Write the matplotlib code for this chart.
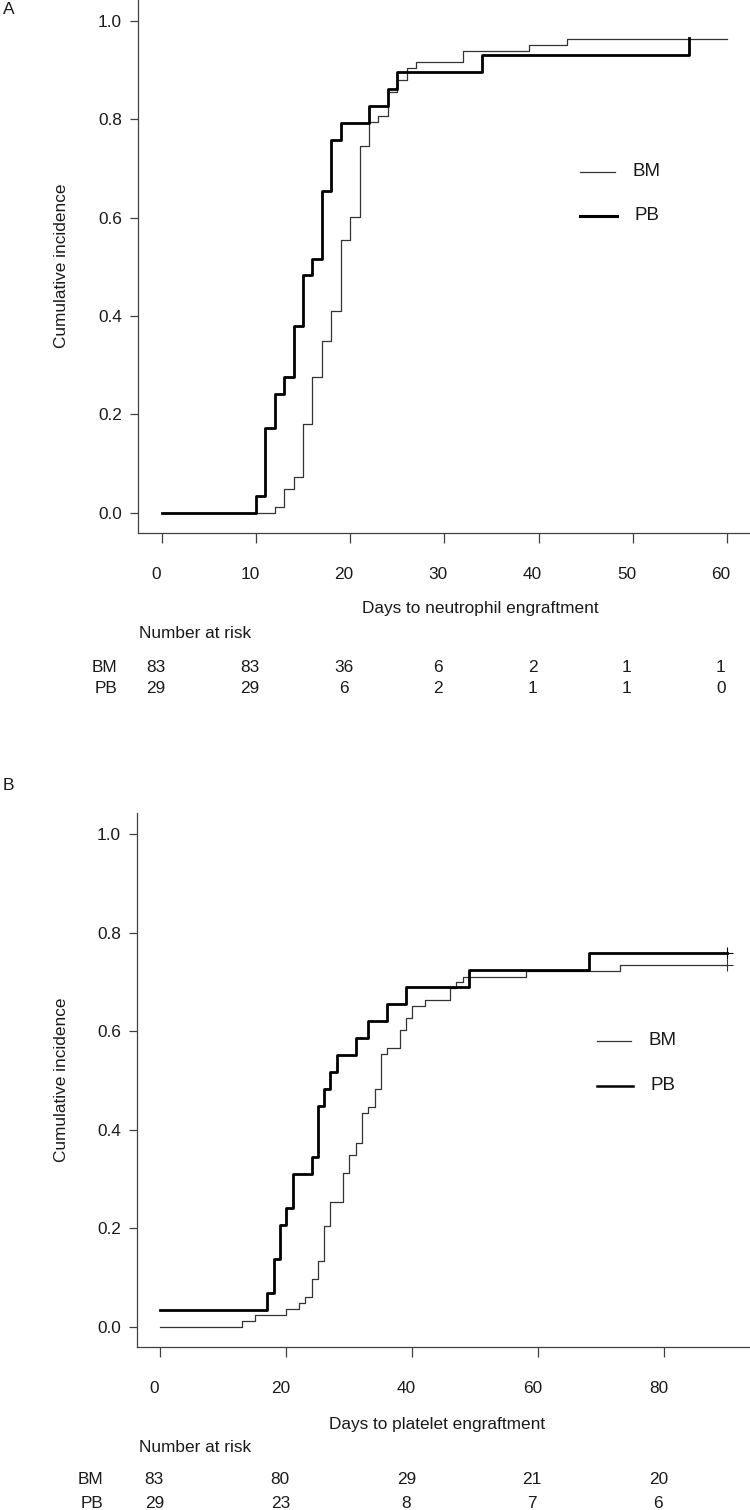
import matplotlib
matplotlib.use("Agg")
import matplotlib.pyplot as plt
from matplotlib.lines import Line2D
from matplotlib.ticker import FormatStrFormatter
import matplotlib.transforms as mtransforms

plt.rcParams['font.family'] = ['Liberation Sans', 'DejaVu Sans']

# ---- panel A: neutrophil engraftment ----
a_bm_days = [0, 12, 13, 14, 15, 16, 17, 18, 19, 20, 21, 22, 23, 24, 25, 26, 27, 32, 39, 43, 60]
a_bm_ci = [0, 0.012, 0.048, 0.072, 0.181, 0.277, 0.349, 0.410, 0.554, 0.602, 0.747,
           0.795, 0.807, 0.855, 0.880, 0.904, 0.916, 0.940, 0.952, 0.964, 0.964]
a_pb_days = [0, 10, 11, 12, 13, 14, 15, 16, 17, 18, 19, 22, 24, 25, 34, 56]
a_pb_ci = [0, 0.034, 0.172, 0.241, 0.276, 0.379, 0.483, 0.517, 0.655, 0.759, 0.793,
           0.828, 0.862, 0.897, 0.931, 0.966]
a_ticks = [0, 10, 20, 30, 40, 50, 60]
a_risk_bm = [83, 83, 36, 6, 2, 1, 1]
a_risk_pb = [29, 29, 6, 2, 1, 1, 0]

# ---- panel B: platelet engraftment ----
b_bm_days = [0, 13, 15, 20, 22, 23, 24, 25, 26, 27, 29, 30, 31, 32, 33, 34, 35, 36, 38,
             39, 40, 42, 46, 47, 48, 58, 73, 90]
b_bm_ci = [0, 0.012, 0.024, 0.036, 0.048, 0.060, 0.096, 0.133, 0.205, 0.253, 0.313,
           0.349, 0.373, 0.434, 0.446, 0.482, 0.554, 0.566, 0.602, 0.627, 0.651, 0.663,
           0.687, 0.699, 0.711, 0.723, 0.735, 0.735]
b_pb_days = [0, 17, 18, 19, 20, 21, 24, 25, 26, 27, 28, 31, 33, 36, 39, 49, 68, 90]
b_pb_ci = [0.034, 0.069, 0.138, 0.207, 0.241, 0.310, 0.345, 0.448, 0.483, 0.517, 0.552,
           0.586, 0.621, 0.655, 0.690, 0.724, 0.759, 0.759]
b_ticks = [0, 20, 40, 60, 80]
b_risk_bm = [83, 80, 29, 21, 20]
b_risk_pb = [29, 23, 8, 7, 6]

yticks = [0, 0.2, 0.4, 0.6, 0.8, 1.0]

W, H = 750, 1510
fig = plt.figure(figsize=(7.5, 15.1), dpi=100)

TXT = '#1a1a1a'
GRY = '#404040'
FS = 12.4


def fx(x):
    return x / W


def fy(y):
    return 1 - y / H


def panel(rect, xlim, ylim, bm_d, bm_c, pb_d, pb_c, ticks, censor):
    ax = fig.add_axes(rect)
    ax.step(bm_d, bm_c, where='post', color='#333333', lw=0.9)
    ax.step(pb_d, pb_c, where='post', color='black', lw=2.0)
    if censor:
        ax.plot(bm_d[-1], bm_c[-1], marker='+', ms=8, mew=0.8, color='#333333')
        ax.plot(pb_d[-1], pb_c[-1], marker='+', ms=8, mew=0.8, color='black')
    ax.set_xlim(*xlim)
    ax.set_ylim(*ylim)
    ax.set_xticks(ticks)
    ax.set_yticks(yticks)
    ax.yaxis.set_major_formatter(FormatStrFormatter('%.1f'))
    for s in ['top', 'right']:
        ax.spines[s].set_visible(False)
    for s in ['left', 'bottom']:
        ax.spines[s].set_color(GRY)
        ax.spines[s].set_linewidth(0.9)
    ax.tick_params(axis='x', direction='out', length=7.4, width=0.9, color=GRY,
                   pad=17, labelsize=FS, labelcolor=TXT)
    ax.tick_params(axis='y', direction='out', length=5.8, width=0.9, color=GRY,
                   pad=6, labelsize=FS, labelcolor=TXT)
    # labels sit a few pixels left of their ticks in the original
    off = mtransforms.ScaledTranslation(-6 / 100, 0, fig.dpi_scale_trans)
    for lab in ax.get_xticklabels():
        lab.set_transform(lab.get_transform() + off)
    return ax, off


def risk_table(ax, off, ticks, bm, pb, y_nar, y_bm, y_pb, x_lab):
    fig.text(fx(139), fy(y_nar), 'Number at risk', fontsize=FS, color=TXT, va='center')
    fig.text(fx(x_lab), fy(y_bm), 'BM', fontsize=FS, color=TXT, va='center', ha='right')
    fig.text(fx(x_lab), fy(y_pb), 'PB', fontsize=FS, color=TXT, va='center', ha='right')
    tr = mtransforms.blended_transform_factory(ax.transData, fig.transFigure) + off
    for t, n1, n2 in zip(ticks, bm, pb):
        ax.text(t, fy(y_bm), str(n1), transform=tr, fontsize=FS, color=TXT,
                ha='center', va='center', clip_on=False)
        ax.text(t, fy(y_pb), str(n2), transform=tr, fontsize=FS, color=TXT,
                ha='center', va='center', clip_on=False)


def legend(x0, x1, xt, y_bm, y_pb, lw_pb):
    fig.add_artist(Line2D([fx(x0), fx(x1)], [fy(y_bm), fy(y_bm)], color='#333333', lw=0.9))
    fig.add_artist(Line2D([fx(x0), fx(x1 + 2)], [fy(y_pb), fy(y_pb)], color='black', lw=lw_pb))
    fig.text(fx(xt), fy(y_bm), 'BM', fontsize=13.5, color=TXT, va='center')
    fig.text(fx(xt + 2), fy(y_pb), 'PB', fontsize=13.5, color=TXT, va='center')


# panel A
axA, offA = panel([fx(138.3), fy(532.7), 1 - fx(138.3), 532.7 / H],
                  (-2.48, 62.45), (-0.0407, 1.0431),
                  a_bm_days, a_bm_ci, a_pb_days, a_pb_ci, a_ticks, False)
fig.text(fx(62), fy(266), 'Cumulative incidence', rotation=90, fontsize=FS,
         color=TXT, ha='center', va='center')
fig.text(fx(480), fy(608), 'Days to neutrophil engraftment', fontsize=FS,
         color=TXT, ha='center', va='center')
risk_table(axA, offA, a_ticks, a_risk_bm, a_risk_pb, 633, 667, 688.5, 117.5)
legend(580, 615, 632, 171.7, 216, 2.2)
fig.text(fx(3), fy(10), 'A', fontsize=12.5, color=TXT, va='center')

# panel B
axB, offB = panel([fx(137.3), fy(1347), 1 - fx(137.3), (1347 - 812.7) / H],
                  (-3.65, 93.6), (-0.0412, 1.0437),
                  b_bm_days, b_bm_ci, b_pb_days, b_pb_ci, b_ticks, True)
fig.text(fx(62), fy(1080), 'Cumulative incidence', rotation=90, fontsize=FS,
         color=TXT, ha='center', va='center')
fig.text(fx(437), fy(1425), 'Days to platelet engraftment', fontsize=FS,
         color=TXT, ha='center', va='center')
risk_table(axB, offB, b_ticks, b_risk_bm, b_risk_pb, 1447, 1480, 1503, 103)
legend(597, 631, 648, 1040.7, 1086, 1.8)
fig.text(fx(3), fy(786), 'B', fontsize=12.5, color=TXT, va='center')

fig.savefig('out.png', dpi=100, facecolor='white')
